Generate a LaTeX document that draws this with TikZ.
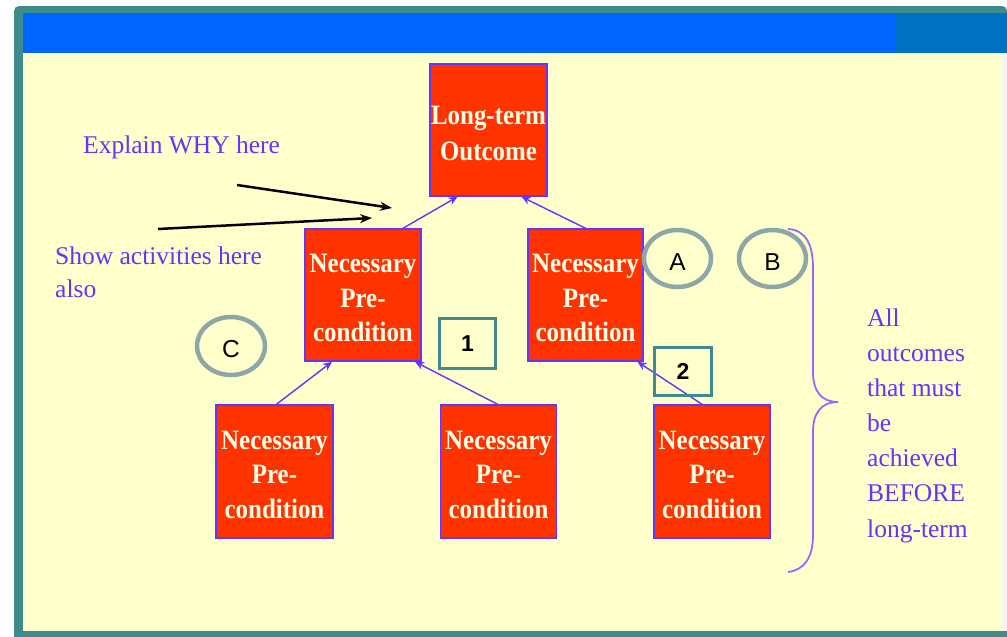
\documentclass[tikz,border=0pt]{standalone}
\usepackage{fontspec}
\setmainfont{Liberation Serif}
\newfontfamily\arialf{Liberation Sans}
\newfontfamily\boxfont[FakeStretch=0.89]{Liberation Serif}
\usetikzlibrary{shapes.geometric,arrows.meta,calc}
\definecolor{bgyellow}{HTML}{FFFFCC}
\definecolor{barblue}{HTML}{0066FF}
\definecolor{bardark}{HTML}{0070C0}
\definecolor{frameteal}{HTML}{3D8B8B}
\definecolor{boxred}{HTML}{FF3300}
\definecolor{boxpurple}{HTML}{6633FF}
\definecolor{boxtext}{HTML}{FFFFEA}
\definecolor{txtpurple}{HTML}{6633FF}
\definecolor{bracepurple}{HTML}{9966FF}
\definecolor{ringgray}{HTML}{8DA6A6}
\definecolor{sqteal}{HTML}{3F8A8F}
\newcommand\npctext{\rule{0pt}{25pt}Necessary\\Pre-\\condition}
\tikzset{
 redbox/.style={draw=boxpurple, line width=1.5pt, fill=boxred, text=boxtext,
   font=\boxfont\fontsize{28}{34.5}\selectfont\bfseries, align=center, inner sep=0pt,
   minimum width=116pt, minimum height=132pt},
 note/.style={text=txtpurple, font=\fontsize{25.5}{35}\selectfont, inner sep=0pt, anchor=base west},
 ring/.style={ellipse, draw=ringgray, line width=4.5pt, minimum width=67pt,
   minimum height=57pt, inner sep=0pt, font=\arialf\fontsize{24.5}{24.5}\selectfont},
 numbox/.style={draw=sqteal, line width=3pt, inner sep=0pt,
   font=\arialf\bfseries\fontsize{23}{23}\selectfont},
 parr/.style={draw=boxpurple, line width=1.4pt, -{Stealth[length=9pt,width=8pt]}},
 barr/.style={draw=black, line width=2.5pt, -{Stealth[length=12pt,width=9pt]}},
}
\begin{document}
\begin{tikzpicture}[x=1pt,y=-1pt]
\useasboundingbox (0,0) rectangle (1007,637);
% frame and background
\fill[white] (0,0) rectangle (1007,637);
\fill[frameteal] (14,637) [rounded corners=5pt] -- (14,6) -- (1007,6) [sharp corners] -- (1007,637) -- cycle;
\fill[white!92!gray] (1002,53) rectangle (1007,631);
\fill[bgyellow] (23,13) rectangle (1002,631);
\fill[barblue] (23,13) rectangle (895,53);
\fill[bardark] (895,13) rectangle (1007,53);

% boxes
\node[redbox, minimum width=117pt, font=\boxfont\fontsize{28}{36}\selectfont\bfseries]
  (top) at (488.5,130) {\rule{0pt}{25pt}Long-term\\Outcome};
\node[redbox] (m1) at (363,295) {\npctext};
\node[redbox, minimum width=115pt] (m2) at (585.5,295) {\npctext};
\node[redbox, minimum width=117pt, minimum height=133pt] (b1) at (274.5,471.5) {\npctext};
\node[redbox, minimum height=133pt] (b2) at (498.5,471.5) {\npctext};
\node[redbox, minimum height=133pt] (b3) at (712,471.5) {\npctext};

% purple connectors
\draw[parr] ([xshift=40pt]m1.north) -- ([xshift=-31pt]top.south);
\draw[parr] (m2.north) -- ([xshift=33pt]top.south);
\draw[parr] ([xshift=2pt]b1.north) -- ([xshift=-31pt]m1.south);
\draw[parr] ([xshift=-1pt]b2.north) -- ([xshift=52pt]m1.south);
\draw[parr] ([xshift=-10pt]b3.north) -- ([xshift=52pt]m2.south);

% notes
\node[note] (why) at (83,153) {Explain WHY here};
\node[note] (show1) at (55,264) {Show activities here};
\node[note] (show2) at (55,297) {also};
\coordinate (s1) at (237,185);
\coordinate (e1) at (392,208);
\coordinate (s2) at (158,229);
\coordinate (e2) at (372,218);
\draw[barr] (s1) -- (e1);
\draw[barr] (s2) -- (e2);

% circles
\node[ring] (cA) at (677.5,258.5) {\rule{0pt}{24pt}A};
\node[ring] (cB) at (772.5,258.5) {\rule{0pt}{24pt}B};
\node[ring, minimum width=68pt, minimum height=58pt] (cC) at (231,346) {\rule{0pt}{24pt}C};

% numbered squares
\node[numbox, minimum width=56pt, minimum height=50pt] (n1) at (467.5,343.5) {1};
\node[numbox, minimum width=57pt, minimum height=48pt] (n2) at (683,371.5) {2};

% brace
\draw[bracepurple, line width=1.8pt]
  (788,229) .. controls (806,230) and (813,245) .. (813,268)
  -- (813,372) .. controls (813,392) and (822,402) .. (838,402)
  .. controls (822,402) and (813,412) .. (813,432)
  -- (813,535) .. controls (813,558) and (804,570) .. (788,572);

% right text
\node[note] (r1) at (867,326) {All};
\node[note] (r2) at (867,361) {outcomes};
\node[note] (r3) at (867,396) {that must};
\node[note] (r4) at (867,431) {be};
\node[note] (r5) at (867,466) {achieved};
\node[note] (r6) at (867,501) {BEFORE};
\node[note] (r7) at (867,537) {long-term};
\end{tikzpicture}
\end{document}
